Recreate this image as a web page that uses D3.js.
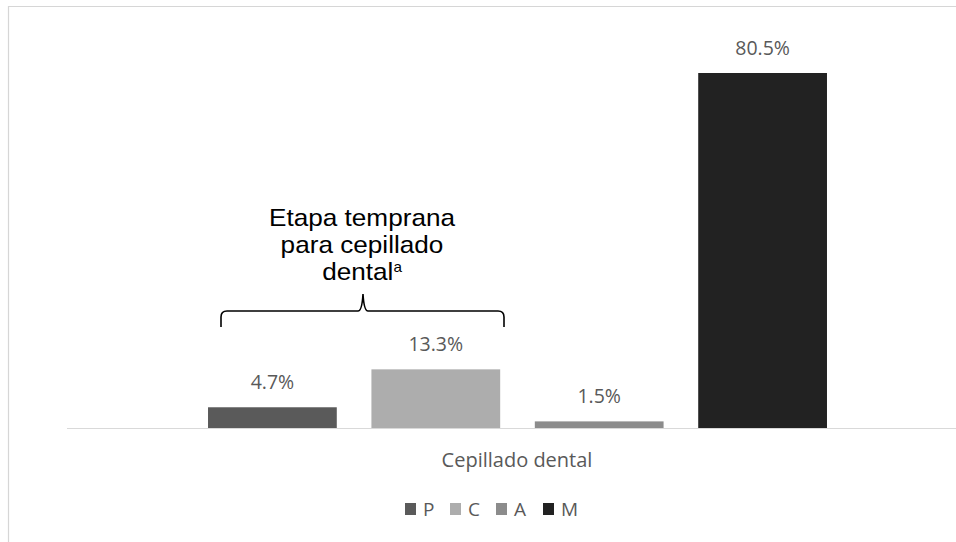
<!DOCTYPE html>
<html>
<head>
<meta charset="utf-8">
<script src="https://cdn.jsdelivr.net/npm/d3@7"></script>
<style>
  html, body { margin: 0; padding: 0; background: #fff; }
  svg { display: block; }
</style>
</head>
<body>
<svg id="chart" width="956" height="542"></svg>
<script>
const category = "Cepillado dental";
const series = ["P", "C", "A", "M"];
const values = [4.7, 13.3, 1.5, 80.5];
const labels = ["4.7%", "13.3%", "1.5%", "80.5%"];
const colors = ["#5a5a5a", "#adadad", "#8c8c8c", "#222222"];
const annotationLines = ["Etapa temprana", "para cepillado", "dental"];
const annotationSup = "a";

const svg = d3.select("#chart");
const W = 956, H = 542;

// outer frame (partial, as cropped)
svg.append("line").attr("x1", 8).attr("x2", W).attr("y1", 6.5).attr("y2", 6.5)
  .attr("stroke", "#d6d6d6").attr("stroke-width", 1.2);
svg.append("line").attr("x1", 8.5).attr("x2", 8.5).attr("y1", 6).attr("y2", H)
  .attr("stroke", "#d6d6d6").attr("stroke-width", 1.2);

const baseY = 428;
const x = d3.scaleBand().domain(series).range([190.7, 844.3])
  .paddingInner(0.212).paddingOuter(0.106);
const y = d3.scaleLinear().domain([0, d3.max(values)]).range([baseY, 73]);

const data = series.map((s, i) => ({ s, v: values[i], label: labels[i], c: colors[i] }));

svg.append("g").selectAll("rect").data(data).join("rect")
  .attr("x", d => x(d.s))
  .attr("y", d => y(d.v))
  .attr("width", x.bandwidth())
  .attr("height", d => baseY - y(d.v))
  .attr("fill", d => d.c);

// axis line
svg.append("line").attr("x1", 67).attr("x2", W).attr("y1", baseY + 0.5).attr("y2", baseY + 0.5)
  .attr("stroke", "#d9d9d9").attr("stroke-width", 1.2);

// data labels
svg.append("g").selectAll("text").data(data).join("text")
  .attr("x", d => x(d.s) + x.bandwidth() / 2)
  .attr("y", d => y(d.v) - 18)
  .attr("text-anchor", "middle")
  .attr("font-family", "'Open Sans', sans-serif")
  .attr("font-size", 19.5)
  .attr("fill", "#595959")
  .text(d => d.label);

// category label
svg.append("text")
  .attr("x", 517).attr("y", 467)
  .attr("text-anchor", "middle")
  .attr("font-family", "'Open Sans', sans-serif")
  .attr("font-size", 20)
  .attr("fill", "#595959")
  .text(category);

// legend
const legendX = [405, 450, 496, 543];
const lg = svg.append("g").selectAll("g").data(data).join("g")
  .attr("transform", (d, i) => `translate(${legendX[i]},503)`);
lg.append("rect").attr("width", 11).attr("height", 12).attr("fill", d => d.c);
lg.append("text").attr("x", 18).attr("y", 12.5)
  .attr("font-family", "'Open Sans', sans-serif")
  .attr("font-size", 19)
  .attr("fill", "#595959")
  .text(d => d.s);

// annotation text
const ann = svg.append("g")
  .attr("transform", "translate(362,0) scale(1.09,1)")
  .attr("font-family", "'Liberation Sans', Arial, sans-serif")
  .attr("font-size", 24)
  .attr("fill", "#000");
annotationLines.forEach((t, i) => {
  const txt = ann.append("text")
    .attr("x", i === annotationLines.length - 1 ? 0 : 0)
    .attr("y", 226 + i * 27)
    .attr("text-anchor", "middle");
  txt.append("tspan").text(t);
  if (i === annotationLines.length - 1) {
    txt.append("tspan").attr("font-size", 14).attr("dy", -8).text(annotationSup);
  }
});

// brace
const bx0 = 221, bx1 = 504, bm = 363, by = 311, byTop = 294, byBot = 327, r = 6;
const p = d3.path();
p.moveTo(bx0, byBot);
p.lineTo(bx0, by + r);
p.quadraticCurveTo(bx0, by, bx0 + r, by);
p.lineTo(bm - 5, by);
p.quadraticCurveTo(bm - 1, by, bm, byTop);
p.quadraticCurveTo(bm + 1, by, bm + 5, by);
p.lineTo(bx1 - r, by);
p.quadraticCurveTo(bx1, by, bx1, by + r);
p.lineTo(bx1, byBot);
svg.append("path").attr("d", p.toString())
  .attr("fill", "none").attr("stroke", "#000").attr("stroke-width", 1.6);
</script>
</body>
</html>
